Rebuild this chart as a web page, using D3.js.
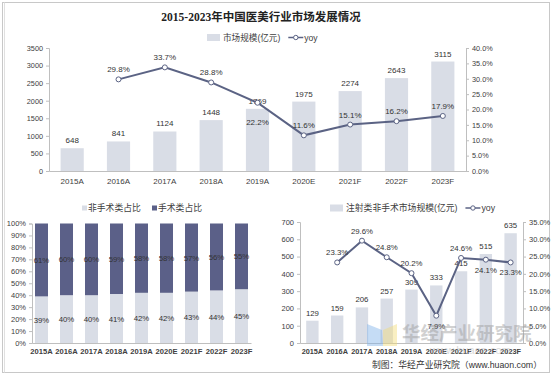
<!DOCTYPE html>
<html>
<head>
<meta charset="utf-8">
<script src="https://cdn.jsdelivr.net/npm/d3@7"></script>
<style>
  body { margin: 0; background: #fff; }
  svg { display: block; font-family: "Liberation Sans", "Noto Sans CJK SC", Arial, sans-serif; }
  .axis path, .axis line { stroke: #bfbfbf; }
  .axis text { fill: #404040; }
</style>
</head>
<body>
<svg id="chart" width="553" height="375"></svg>
<script>
// Top chart: market size + yoy
const years = ['2015A', '2016A', '2017A', '2018A', '2019A', '2020E', '2021F', '2022F', '2023F'];
const marketSize = [648, 841, 1124, 1448, 1769, 1975, 2274, 2643, 3115];
const marketYoy = [null, 0.298, 0.337, 0.288, 0.222, 0.116, 0.151, 0.162, 0.179];

// Bottom left: share of non-surgical vs surgical
const nonSurgical = [0.39, 0.40, 0.40, 0.41, 0.42, 0.42, 0.43, 0.44, 0.45];
const surgical = [0.61, 0.60, 0.60, 0.59, 0.58, 0.58, 0.57, 0.56, 0.55];

// Bottom right: injection non-surgical market + yoy
const injectSize = [129, 159, 206, 257, 309, 333, 415, 515, 635];
const injectYoy = [null, 0.233, 0.296, 0.248, 0.202, 0.079, 0.246, 0.241, 0.233];

const barColor = '#d9dde6';
const darkColor = '#5b6088';
const lineColor = '#5b6384';
const textColor = '#333';

const svg = d3.select('#chart');

// outer frame
svg.append('rect')
  .attr('x', 2.5).attr('y', 2.5)
  .attr('width', 547).attr('height', 370)
  .attr('fill', 'none').attr('stroke', '#c8c8c8');
svg.append('line')
  .attr('x1', 4.5).attr('x2', 4.5).attr('y1', 2.5).attr('y2', 372.5)
  .attr('stroke', '#e0e0e0');

// title
svg.append('text')
  .attr('x', 261).attr('y', 21)
  .attr('text-anchor', 'middle')
  .attr('font-family', '"Liberation Serif", "Noto Sans CJK SC", serif')
  .attr('font-weight', 'bold')
  .attr('font-size', 11.5)
  .attr('fill', '#222')
  .text('2015-2023年中国医美行业市场发展情况');

function styleAxis(g, size) {
  g.attr('class', 'axis');
  g.selectAll('text').attr('font-size', size);
}

function drawLegend(x, y, barLabel, fontSize) {
  const g = svg.append('g').attr('transform', `translate(${x},${y})`);
  g.append('rect').attr('x', 0).attr('y', -3.5).attr('width', 13).attr('height', 7).attr('fill', barColor);
  const t = g.append('text').attr('x', 16).attr('y', 3).attr('font-size', fontSize).attr('fill', '#404040').text(barLabel);
  const w = t.node().getComputedTextLength();
  const lx = 16 + w + 8;
  g.append('line').attr('x1', lx).attr('x2', lx + 15).attr('y1', 0).attr('y2', 0)
    .attr('stroke', lineColor).attr('stroke-width', 1.5);
  g.append('circle').attr('cx', lx + 7.5).attr('cy', 0).attr('r', 2.2)
    .attr('fill', '#fff').attr('stroke', lineColor).attr('stroke-width', 1);
  g.append('text').attr('x', lx + 16).attr('y', 3).attr('font-size', fontSize).attr('fill', '#404040').text('yoy');
}

function drawComboChart(opt) {
  const x = d3.scaleBand().domain(years).range([opt.left, opt.right]).paddingInner(0.5).paddingOuter(0.25);
  const yL = d3.scaleLinear().domain([0, opt.maxL]).range([opt.bottom, opt.top]);
  const yR = d3.scaleLinear().domain([0, opt.maxR]).range([opt.bottom, opt.top]);

  svg.append('g')
    .attr('transform', `translate(${opt.left},0)`)
    .call(d3.axisLeft(yL).tickValues(d3.range(0, opt.maxL + 1, opt.stepL)).tickFormat(d3.format('d')).tickSize(3).tickPadding(3))
    .call(g => styleAxis(g, opt.axisFont));

  svg.append('g')
    .attr('transform', `translate(${opt.right},0)`)
    .call(d3.axisRight(yR).tickValues(d3.range(0, opt.maxR + 0.0001, 0.05)).tickFormat(d3.format('.1%')).tickSize(3).tickPadding(3))
    .call(g => styleAxis(g, opt.axisFont));

  const xAxis = svg.append('g')
    .attr('transform', `translate(0,${opt.bottom})`)
    .call(d3.axisBottom(x).tickSize(0).tickPadding(opt.xPad))
    .call(g => styleAxis(g, opt.xFont));
  if (opt.xBold) xAxis.selectAll('text').attr('font-weight', 'bold').attr('fill', '#333');

  // bars
  svg.append('g').selectAll('rect')
    .data(opt.sizes)
    .join('rect')
    .attr('x', (d, i) => x(years[i]))
    .attr('y', d => yL(d))
    .attr('width', x.bandwidth())
    .attr('height', d => opt.bottom - yL(d))
    .attr('fill', barColor);

  svg.append('g').selectAll('text')
    .data(opt.sizes)
    .join('text')
    .attr('x', (d, i) => x(years[i]) + x.bandwidth() / 2)
    .attr('y', d => yL(d) - 5)
    .attr('text-anchor', 'middle')
    .attr('font-size', opt.labelFont)
    .attr('fill', textColor)
    .text(d => d);

  // yoy line
  const pts = opt.yoy.map((v, i) => ({ v, i })).filter(d => d.v !== null);
  const line = d3.line()
    .x(d => x(years[d.i]) + x.bandwidth() / 2)
    .y(d => yR(d.v));

  svg.append('path')
    .datum(pts)
    .attr('d', line)
    .attr('fill', 'none')
    .attr('stroke', lineColor)
    .attr('stroke-width', 2);

  svg.append('g').selectAll('circle')
    .data(pts)
    .join('circle')
    .attr('cx', d => x(years[d.i]) + x.bandwidth() / 2)
    .attr('cy', d => yR(d.v))
    .attr('r', 2.5)
    .attr('fill', '#fff')
    .attr('stroke', lineColor)
    .attr('stroke-width', 1);

  svg.append('g').selectAll('text')
    .data(pts)
    .join('text')
    .attr('x', d => x(years[d.i]) + x.bandwidth() / 2)
    .attr('y', d => yR(d.v) + (opt.below.includes(d.i) ? opt.belowOffset : -7))
    .attr('text-anchor', 'middle')
    .attr('font-size', opt.labelFont)
    .attr('fill', textColor)
    .text(d => d3.format('.1%')(d.v));
}

// ---- top chart ----
drawLegend(207, 37.5, '市场规模(亿元)', 8.6);
drawComboChart({
  left: 49, right: 466, top: 48, bottom: 171,
  maxL: 3500, stepL: 500, maxR: 0.4,
  sizes: marketSize, yoy: marketYoy,
  below: [4], belowOffset: 22,
  axisFont: 7.3, xFont: 8, labelFont: 8, xPad: 7, xBold: false
});

// ---- bottom left: stacked share ----
(function () {
  const left = 32, right = 251, top = 223.5, bottom = 343;
  const x = d3.scaleBand().domain(years).range([left, right]).paddingInner(0.48).paddingOuter(0.12);
  const y = d3.scaleLinear().domain([0, 1]).range([bottom, top]);

  svg.append('g')
    .attr('transform', `translate(${left},0)`)
    .call(d3.axisLeft(y).ticks(10).tickFormat(d3.format('.0%')).tickSize(3).tickPadding(3))
    .call(g => styleAxis(g, 7.5));

  svg.append('g')
    .attr('transform', `translate(0,${bottom})`)
    .call(d3.axisBottom(x).tickSize(0).tickPadding(6))
    .call(g => styleAxis(g, 7.6))
    .call(g => g.selectAll('text').attr('font-weight', 'bold').attr('fill', '#333'));

  const bars = svg.append('g');
  years.forEach((yr, i) => {
    bars.append('rect')
      .attr('x', x(yr)).attr('y', y(nonSurgical[i]))
      .attr('width', x.bandwidth()).attr('height', bottom - y(nonSurgical[i]))
      .attr('fill', barColor);
    bars.append('rect')
      .attr('x', x(yr)).attr('y', y(nonSurgical[i] + surgical[i]))
      .attr('width', x.bandwidth()).attr('height', y(nonSurgical[i]) - y(nonSurgical[i] + surgical[i]))
      .attr('fill', darkColor);
    bars.append('text')
      .attr('x', x(yr) + x.bandwidth() / 2).attr('y', y(nonSurgical[i] / 2) + 3)
      .attr('text-anchor', 'middle').attr('font-size', 7.8).attr('fill', textColor)
      .text(d3.format('.0%')(nonSurgical[i]));
    bars.append('text')
      .attr('x', x(yr) + x.bandwidth() / 2).attr('y', y(nonSurgical[i] + surgical[i] / 2) + 3)
      .attr('text-anchor', 'middle').attr('font-size', 7.8).attr('fill', textColor)
      .text(d3.format('.0%')(surgical[i]));
  });

  // legend
  const lg = svg.append('g').attr('transform', 'translate(82,208)');
  lg.append('rect').attr('x', 0).attr('y', -2.5).attr('width', 5).attr('height', 5).attr('fill', barColor);
  lg.append('text').attr('x', 6).attr('y', 3.3).attr('font-size', 8.8).attr('fill', '#404040').text('非手术类占比');
  lg.append('rect').attr('x', 70).attr('y', -2.5).attr('width', 5).attr('height', 5).attr('fill', darkColor);
  lg.append('text').attr('x', 76).attr('y', 3.3).attr('font-size', 8.8).attr('fill', '#404040').text('手术类占比');
})();

// ---- bottom right: injection market ----
drawLegend(330, 208, '注射类非手术市场规模(亿元)', 8.8);
drawComboChart({
  left: 300, right: 523, top: 222, bottom: 343,
  maxL: 700, stepL: 100, maxR: 0.35,
  sizes: injectSize, yoy: injectYoy,
  below: [5, 7, 8], belowOffset: 13,
  axisFont: 7.5, xFont: 7.3, labelFont: 7.8, xPad: 6, xBold: true
});

// ---- watermark + source ----
const wm = svg.append('g').attr('opacity', 0.45);
wm.append('path').attr('d', 'M367,324 L382,330 L383,346 L367,346 Z').attr('fill', '#7fb2ea');
wm.append('path').attr('d', 'M383,330 L397,324 L397,346 L383,346 Z').attr('fill', '#f2dc7a');
wm.append('text')
  .attr('x', 402).attr('y', 340)
  .attr('font-size', 18.5).attr('font-weight', 'bold')
  .attr('fill', '#9a9a9a')
  .text('华经产业研究院');
wm.append('text')
  .attr('x', 430).attr('y', 354)
  .attr('font-size', 11).attr('fill', '#b0b0b0')
  .text('www.huaon.com');

svg.append('text')
  .attr('x', 542).attr('y', 368)
  .attr('text-anchor', 'end')
  .attr('font-size', 8.8)
  .attr('fill', '#333')
  .text('制图：华经产业研究院（www.huaon.com）');
</script>
</body>
</html>
